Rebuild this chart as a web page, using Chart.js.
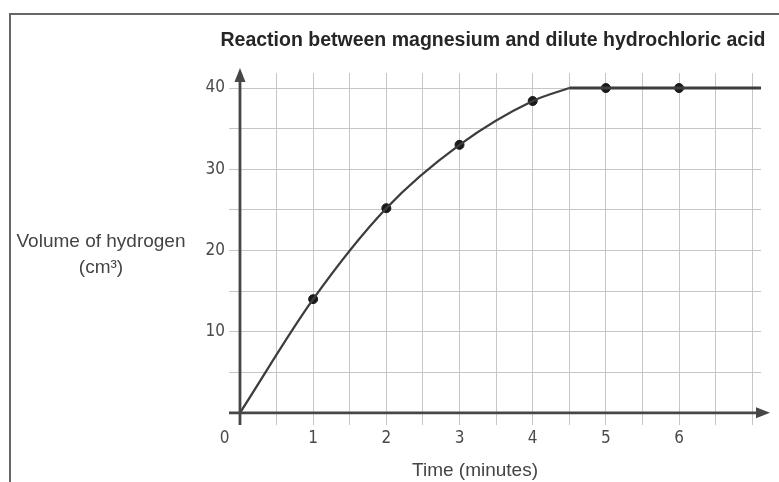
<!DOCTYPE html>
<html lang="en">
<head>
    <meta charset="UTF-8">
    <title>Reaction between magnesium and dilute hydrochloric acid</title>
    <script src="https://cdn.jsdelivr.net/npm/chart.js"></script>
    <style>
        html, body { margin: 0; padding: 0; background: #fff; overflow: hidden; }
        #frame { position: absolute; left: 9px; top: 13px; width: 820px; height: 520px;
                 border-left: 2px solid #666; border-top: 2px solid #666; }
        #chartContainer { position: absolute; left: 0; top: 0; width: 779px; height: 482px; }
    </style>
</head>
<body>
    <div id="frame"></div>
    <div id="chartContainer">
        <canvas id="rateChart"></canvas>
    </div>

    <script>
        const chartTitle = 'Reaction between magnesium and dilute hydrochloric acid';
        const xTitle = 'Time (minutes)';
        const yTitleLines = ['Volume of hydrogen', '(cm³)'];

        // measured readings (the dots)
        const readingTimes = [1, 2, 3, 4, 5, 6];
        const readingVolumes = [14, 25.2, 33, 38.4, 40, 40];

        // curve drawn through the readings, then the flat part
        const riseTimes = [0, 1, 2, 3, 4, 4.5];
        const riseVolumes = [0, 14, 25.2, 33, 38.4, 40];
        const plateauTimes = [4.5, 7.12];
        const plateauVolumes = [40, 40];

        // grid and tick labels
        const xGridValues = [0, 0.5, 1, 1.5, 2, 2.5, 3, 3.5, 4, 4.5, 5, 5.5, 6, 6.5, 7];
        const yGridValues = [0, 5, 10, 15, 20, 25, 30, 35, 40];
        const xLabelValues = [0, 1, 2, 3, 4, 5, 6];
        const yLabelValues = [10, 20, 30, 40];

        const narrowFont = "'Liberation Sans Narrow', 'Arial Narrow', 'DejaVu Sans Condensed', 'Liberation Sans', Arial, sans-serif";
        const mainFont = "'Liberation Sans', Arial, sans-serif";
        const axisColor = '#474747';

        function toPoints(xs, ys) {
            return xs.map((v, i) => ({ x: v, y: ys[i] }));
        }

        // axis lines with arrow heads, and the text around the plot
        const decorations = {
            id: 'decorations',
            afterDatasetsDraw(chart) {
                const { ctx, chartArea, scales } = chart;
                const x0 = scales.x.getPixelForValue(0);
                const y0 = scales.y.getPixelForValue(0);
                ctx.save();
                ctx.strokeStyle = axisColor;
                ctx.fillStyle = axisColor;
                ctx.lineWidth = 2.8;
                ctx.beginPath();
                ctx.moveTo(chartArea.left, y0);
                ctx.lineTo(chartArea.right + 2, y0);
                ctx.moveTo(x0, chartArea.bottom);
                ctx.lineTo(x0, chartArea.top + 2);
                ctx.stroke();

                ctx.beginPath();
                ctx.moveTo(x0, chartArea.top - 5);
                ctx.lineTo(x0 - 5.5, chartArea.top + 9);
                ctx.lineTo(x0 + 5.5, chartArea.top + 9);
                ctx.closePath();
                ctx.fill();

                ctx.beginPath();
                ctx.moveTo(chartArea.right + 9, y0);
                ctx.lineTo(chartArea.right - 5, y0 - 5.5);
                ctx.lineTo(chartArea.right - 5, y0 + 5.5);
                ctx.closePath();
                ctx.fill();

                ctx.textAlign = 'center';
                ctx.textBaseline = 'middle';
                ctx.fillStyle = '#262626';
                ctx.font = 'bold 19.5px ' + mainFont;
                ctx.fillText(chartTitle, 493, 41);

                ctx.fillStyle = '#444';
                ctx.font = '19px ' + mainFont;
                ctx.fillText(xTitle, 475, 471);
                ctx.fillText(yTitleLines[0], 101, 242);
                ctx.fillText(yTitleLines[1], 101, 268);
                ctx.restore();
            }
        };

        function initChart() {
            const ctx = document.getElementById('rateChart').getContext('2d');
            new Chart(ctx, {
                type: 'scatter',
                data: {
                    datasets: [{
                        label: 'Curve',
                        type: 'line',
                        data: toPoints(riseTimes, riseVolumes),
                        borderColor: '#3d3d3d',
                        borderWidth: 2.3,
                        cubicInterpolationMode: 'monotone',
                        pointRadius: 0,
                        fill: false
                    }, {
                        label: 'Plateau',
                        type: 'line',
                        data: toPoints(plateauTimes, plateauVolumes),
                        borderColor: '#3d3d3d',
                        borderWidth: 2.8,
                        pointRadius: 0,
                        fill: false
                    }, {
                        label: 'Readings',
                        data: toPoints(readingTimes, readingVolumes),
                        backgroundColor: '#1a1a1a',
                        borderColor: '#1a1a1a',
                        pointRadius: 4.5
                    }]
                },
                options: {
                    responsive: true,
                    maintainAspectRatio: false,
                    animation: false,
                    events: [],
                    layout: {
                        padding: { left: 205, right: 18, top: 73, bottom: 33 }
                    },
                    plugins: {
                        legend: { display: false },
                        tooltip: { enabled: false },
                        title: { display: false }
                    },
                    scales: {
                        x: {
                            type: 'linear',
                            min: -0.15,
                            max: 7.12,
                            afterBuildTicks: s => { s.ticks = xGridValues.map(v => ({ value: v })); },
                            afterFit: s => { s.height = 24; },
                            border: { display: false },
                            grid: { color: '#c6c6c6', lineWidth: 1, drawTicks: false },
                            ticks: {
                                autoSkip: false,
                                maxRotation: 0,
                                padding: 3,
                                color: '#4a4a4a',
                                font: { family: narrowFont, size: 17 },
                                callback: v => {
                                    if (!xLabelValues.includes(v)) return '';
                                    return v === 0 ? '0\u2003\u2003' : String(v);
                                }
                            }
                        },
                        y: {
                            type: 'linear',
                            min: -1.5,
                            max: 41.85,
                            afterBuildTicks: s => { s.ticks = yGridValues.map(v => ({ value: v })); },
                            afterFit: s => { s.width = 24; },
                            border: { display: false },
                            grid: { color: '#c6c6c6', lineWidth: 1, drawTicks: false },
                            ticks: {
                                autoSkip: false,
                                padding: 4,
                                color: '#4a4a4a',
                                font: { family: narrowFont, size: 17 },
                                callback: v => yLabelValues.includes(v) ? String(v) : ''
                            }
                        }
                    }
                },
                plugins: [decorations]
            });
        }

        document.addEventListener('DOMContentLoaded', initChart);
    </script>
</body>
</html>
